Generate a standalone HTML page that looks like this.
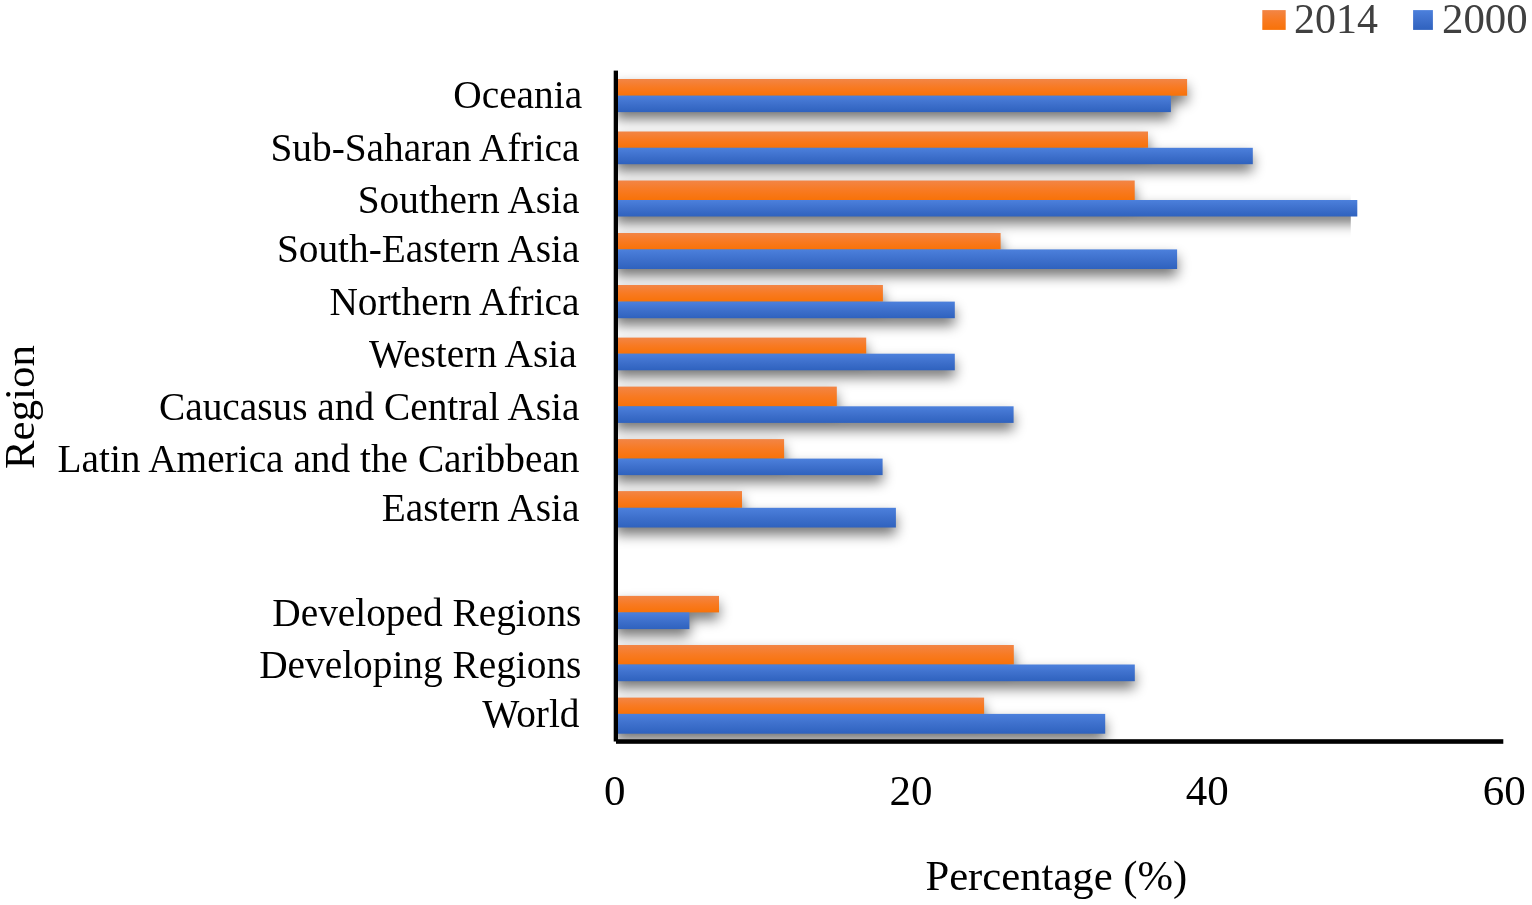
<!DOCTYPE html>
<html lang="en">
<head>
<meta charset="utf-8">
<title>Percentage by region, 2014 and 2000</title>
<style>
html,body{margin:0;padding:0;background:#fff;}
body{width:1532px;height:905px;position:relative;overflow:hidden;font-family:"Liberation Serif",serif;color:#000;}
#chart{position:absolute;left:0;top:0;width:1532px;height:905px;display:block;}
.t{position:absolute;white-space:nowrap;line-height:1;margin:0;padding:0;}
.lab{font-size:39.35px;}
.tick{font-size:43px;transform:translateX(-50%);}
.ttl{font-size:42.5px;}
.leg{font-size:43px;color:#404040;transform-origin:0 0;transform:scaleX(0.975);}
</style>
</head>
<body>
<svg id="chart" width="1532" height="905" viewBox="0 0 1532 905">
<defs>
<linearGradient id="go" x1="0" y1="0" x2="0" y2="1"><stop offset="0" stop-color="#f28546"/><stop offset="0.5" stop-color="#f87a22"/><stop offset="1" stop-color="#f87208"/></linearGradient>
<linearGradient id="gb" x1="0" y1="0" x2="0" y2="1"><stop offset="0" stop-color="#4c80dc"/><stop offset="0.5" stop-color="#3e70cc"/><stop offset="1" stop-color="#2f62be"/></linearGradient>
<filter id="blur" filterUnits="userSpaceOnUse" x="0" y="0" width="1532" height="905"><feGaussianBlur stdDeviation="6.2"/></filter>
<clipPath id="plot"><rect x="618" y="40" width="914" height="699.2"/></clipPath>
<clipPath id="cut"><path d="M0 0H1532V190H1350.8V240H1532V905H0Z"/></clipPath>
</defs>

<g clip-path="url(#plot)"><g clip-path="url(#cut)"><g filter="url(#blur)" opacity="0.55" transform="translate(0,7.0)">
<rect x="614.9" y="79" width="572.2" height="16.7"/>
<rect x="614.9" y="95.7" width="556" height="16.4"/>
<rect x="614.9" y="131.5" width="533.1" height="16.3"/>
<rect x="614.9" y="147.8" width="637.9" height="16.4"/>
<rect x="614.9" y="180.5" width="519.8" height="19.5"/>
<rect x="614.9" y="200" width="805.1" height="16.5"/>
<rect x="614.9" y="233" width="385.7" height="16.4"/>
<rect x="614.9" y="249.4" width="562.2" height="19.6"/>
<rect x="614.9" y="285" width="268" height="16.6"/>
<rect x="614.9" y="301.6" width="339.9" height="16.6"/>
<rect x="614.9" y="337.6" width="251.3" height="16.1"/>
<rect x="614.9" y="353.7" width="339.9" height="16.6"/>
<rect x="614.9" y="386.6" width="221.9" height="19.7"/>
<rect x="614.9" y="406.3" width="398.7" height="16.6"/>
<rect x="614.9" y="439.1" width="169.2" height="19.5"/>
<rect x="614.9" y="458.6" width="267.7" height="16.5"/>
<rect x="614.9" y="491.1" width="127.1" height="16.7"/>
<rect x="614.9" y="507.8" width="281" height="19.7"/>
<rect x="614.9" y="595.9" width="104.1" height="16.5"/>
<rect x="614.9" y="612.4" width="74.5" height="16.7"/>
<rect x="614.9" y="645" width="398.9" height="19.5"/>
<rect x="614.9" y="664.5" width="519.9" height="16.7"/>
<rect x="614.9" y="697.6" width="369.2" height="16.3"/>
<rect x="614.9" y="713.9" width="490.3" height="19.8"/>
</g></g></g>
<g>
<rect fill="url(#go)" x="617.9" y="79" width="569.2" height="16.7"/>
<rect fill="url(#gb)" x="617.9" y="95.7" width="553" height="16.4"/>
<rect fill="url(#go)" x="617.9" y="131.5" width="530.1" height="16.3"/>
<rect fill="url(#gb)" x="617.9" y="147.8" width="634.9" height="16.4"/>
<rect fill="url(#go)" x="617.9" y="180.5" width="516.8" height="19.5"/>
<rect fill="url(#gb)" x="617.9" y="200" width="739.4" height="16.5"/>
<rect fill="url(#go)" x="617.9" y="233" width="382.7" height="16.4"/>
<rect fill="url(#gb)" x="617.9" y="249.4" width="559.2" height="19.6"/>
<rect fill="url(#go)" x="617.9" y="285" width="265" height="16.6"/>
<rect fill="url(#gb)" x="617.9" y="301.6" width="336.9" height="16.6"/>
<rect fill="url(#go)" x="617.9" y="337.6" width="248.3" height="16.1"/>
<rect fill="url(#gb)" x="617.9" y="353.7" width="336.9" height="16.6"/>
<rect fill="url(#go)" x="617.9" y="386.6" width="218.9" height="19.7"/>
<rect fill="url(#gb)" x="617.9" y="406.3" width="395.7" height="16.6"/>
<rect fill="url(#go)" x="617.9" y="439.1" width="166.2" height="19.5"/>
<rect fill="url(#gb)" x="617.9" y="458.6" width="264.7" height="16.5"/>
<rect fill="url(#go)" x="617.9" y="491.1" width="124.1" height="16.7"/>
<rect fill="url(#gb)" x="617.9" y="507.8" width="278" height="19.7"/>
<rect fill="url(#go)" x="617.9" y="595.9" width="101.1" height="16.5"/>
<rect fill="url(#gb)" x="617.9" y="612.4" width="71.5" height="16.7"/>
<rect fill="url(#go)" x="617.9" y="645" width="395.9" height="19.5"/>
<rect fill="url(#gb)" x="617.9" y="664.5" width="516.9" height="16.7"/>
<rect fill="url(#go)" x="617.9" y="697.6" width="366.2" height="16.3"/>
<rect fill="url(#gb)" x="617.9" y="713.9" width="487.3" height="19.8"/>
</g>
<rect x="613.7" y="70.6" width="4.3" height="670.9"/>
<rect x="616" y="739.2" width="887.3" height="4.6"/>
<rect fill="url(#go)" x="1262.3" y="10.1" width="23.4" height="19.8"/>
<rect fill="url(#gb)" x="1413.1" y="10.1" width="19.8" height="19.8"/>
</svg>
<div class="t lab" style="right:949.9px;top:76.44px">Oceania</div>
<div class="t lab" style="right:952.5px;top:128.84px">Sub-Saharan Africa</div>
<div class="t lab" style="right:952.5px;top:180.84px">Southern Asia</div>
<div class="t lab" style="right:952.5px;top:230.04px">South-Eastern Asia</div>
<div class="t lab" style="right:952.5px;top:282.84px">Northern Africa</div>
<div class="t lab" style="right:955.3px;top:335.24px">Western Asia</div>
<div class="t lab" style="right:952.5px;top:387.94px">Caucasus and Central Asia</div>
<div class="t lab" style="right:952.5px;top:440.14px">Latin America and the Caribbean</div>
<div class="t lab" style="right:952.5px;top:488.74px">Eastern Asia</div>
<div class="t lab" style="right:950.6px;top:593.74px">Developed Regions</div>
<div class="t lab" style="right:950.6px;top:646.24px">Developing Regions</div>
<div class="t lab" style="right:952.5px;top:694.94px">World</div>
<div class="t tick" style="left:614.7px;top:769px">0</div>
<div class="t tick" style="left:911px;top:769px">20</div>
<div class="t tick" style="left:1207.2px;top:769px">40</div>
<div class="t tick" style="left:1504.3px;top:769px">60</div>
<div class="t ttl" style="font-size:42.7px;left:925.4px;top:854.84px">Percentage (%)</div>
<div class="t ttl" style="font-size:42.9px;left:-0.83px;top:469.1px;transform-origin:0 0;transform:rotate(-90deg)">Region</div>
<div class="t leg" style="left:1294.3px;top:-2.61px">2014</div>
<div class="t leg" style="left:1442.2px;top:-2.61px;transform:scaleX(0.997)">2000</div>
</body>
</html>
